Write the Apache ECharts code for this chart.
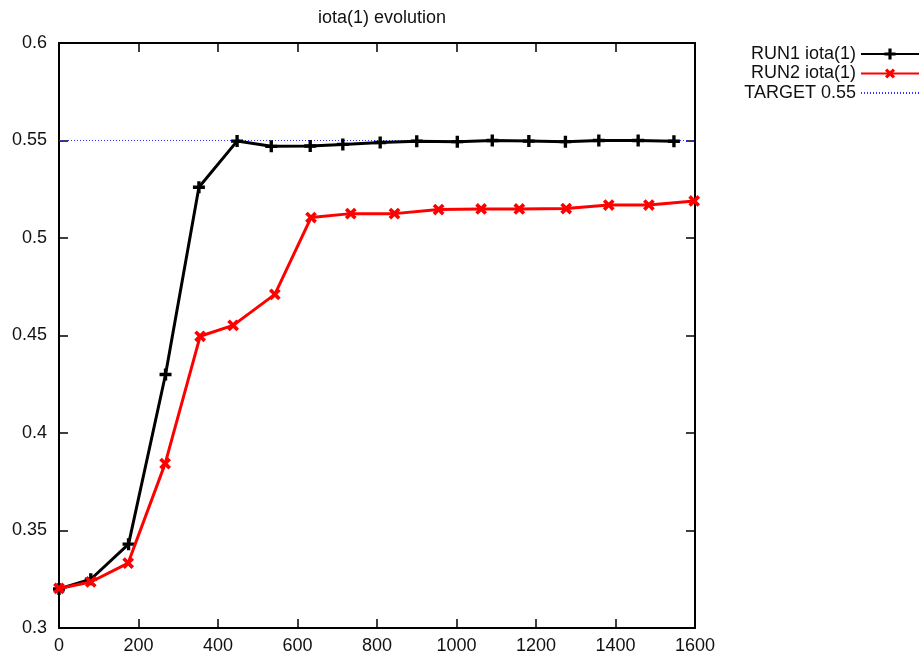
<!DOCTYPE html>
<html>
<head>
<meta charset="utf-8">
<title>iota(1) evolution</title>
<script src="https://cdn.jsdelivr.net/npm/echarts@6/dist/echarts.min.js"></script>
<style>
  html, body { margin: 0; padding: 0; background: #fff; }
  #chart { width: 921px; height: 659px; }
</style>
</head>
<body>
<div id="chart"></div>
<script>
// data
const run1X = [0, 80, 175, 268, 352, 448, 534, 632, 714, 808, 900, 1002, 1090, 1182, 1274, 1358, 1457, 1547]
const run1Y = [0.320, 0.325, 0.343, 0.430, 0.526, 0.5497, 0.547, 0.5472, 0.548, 0.549, 0.5496, 0.5494, 0.550, 0.5497, 0.5494, 0.550, 0.550, 0.5496]
const run2X = [0, 80, 174, 267, 355, 438, 543, 634, 734, 844, 955, 1062, 1158, 1276, 1383, 1484, 1598]
const run2Y = [0.3203, 0.3236, 0.3333, 0.3843, 0.4496, 0.4552, 0.4711, 0.5105, 0.5125, 0.5125, 0.5146, 0.5149, 0.5149, 0.5151, 0.5169, 0.5169, 0.519]
const targetX = [0, 1600]
const targetY = [0.55, 0.55]

const pair = (xs, ys) => xs.map((x, i) => [x, ys[i]])

const font = '"Liberation Sans", Arial, sans-serif'
const plusPath = 'path://M3.6,0H6.4V3.6H10V6.4H6.4V10H3.6V6.4H0V3.6H3.6Z'

const xBase = {
  type: 'value',
  min: 0,
  max: 1600,
  interval: 200,
  splitLine: { show: false },
  axisLine: { show: true, onZero: false, lineStyle: { color: '#000', width: 2 } },
  axisTick: { show: true, inside: true, length: 9, lineStyle: { color: '#000', width: 1.5 } }
}
const yBase = {
  type: 'value',
  min: 0.3,
  max: 0.6,
  interval: 0.05,
  splitLine: { show: false },
  axisLine: { show: true, onZero: false, lineStyle: { color: '#000', width: 2 } },
  axisTick: { show: true, inside: true, length: 9, lineStyle: { color: '#000', width: 1.5 } }
}

const chart = echarts.init(document.getElementById('chart'))
chart.setOption({
  animation: false,
  textStyle: { fontFamily: font },
  title: {
    text: 'iota(1) evolution',
    left: 377,
    textAlign: 'center',
    top: 4,
    textStyle: { fontFamily: font, fontSize: 18, fontWeight: 'normal', color: '#111' }
  },
  legend: {
    orient: 'vertical',
    right: -4,
    top: 40,
    align: 'right',
    itemWidth: 58,
    itemHeight: 14,
    itemGap: 1.5,
    textStyle: { fontFamily: font, fontSize: 18, color: '#111' },
    data: [
      'RUN1 iota(1)',
      'RUN2 iota(1)',
      { name: 'TARGET 0.55', itemStyle: { opacity: 0 } }
    ]
  },
  grid: { left: 59, right: 226, top: 43, bottom: 31 },
  xAxis: [
    Object.assign({}, xBase, {
      position: 'bottom',
      axisLabel: { color: '#111', fontSize: 18, margin: 9, fontFamily: font, formatter: (v) => String(v) }
    }),
    Object.assign({}, xBase, { position: 'top', axisLabel: { show: false } })
  ],
  yAxis: [
    Object.assign({}, yBase, {
      position: 'left',
      axisLabel: { color: '#111', fontSize: 18, margin: 12, fontFamily: font, formatter: (v) => String(+v.toFixed(2)) }
    }),
    Object.assign({}, yBase, { position: 'right', axisLabel: { show: false } })
  ],
  series: [
    {
      name: 'RUN1 iota(1)',
      type: 'line',
      data: pair(run1X, run1Y),
      symbol: plusPath,
      symbolSize: 12,
      lineStyle: { color: '#000', width: 3 },
      itemStyle: { color: '#000' },
      z: 3
    },
    {
      name: 'RUN2 iota(1)',
      type: 'line',
      data: pair(run2X, run2Y),
      symbol: plusPath,
      symbolRotate: 45,
      symbolSize: 13,
      lineStyle: { color: '#ff0000', width: 3 },
      itemStyle: { color: '#ff0000' },
      z: 4
    },
    {
      name: 'TARGET 0.55',
      type: 'line',
      data: pair(targetX, targetY),
      symbol: 'none',
      lineStyle: { color: '#3030ff', width: 1, type: [1, 2] },
      itemStyle: { color: '#3030ff' },
      z: 2
    }
  ]
})
</script>
</body>
</html>
